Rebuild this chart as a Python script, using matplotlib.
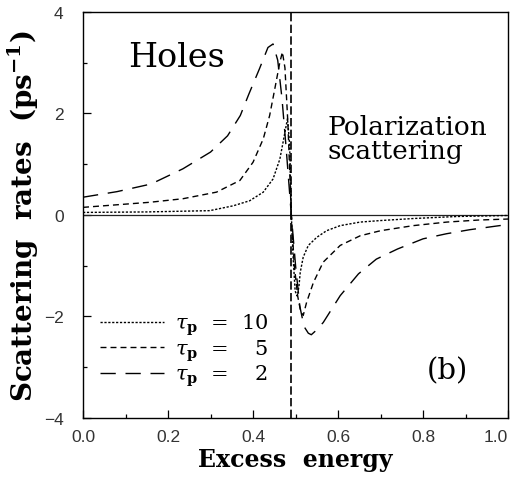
import matplotlib.pyplot as plt
from matplotlib.ticker import MultipleLocator

# tau_p = 2 (long dashes)
x_tau2 = [0.0, 0.08, 0.16, 0.235, 0.30, 0.34, 0.37, 0.39, 0.415, 0.435, 0.447,
          0.458, 0.468, 0.478, 0.49, 0.50, 0.51, 0.52, 0.53, 0.537, 0.545,
          0.565, 0.605, 0.648, 0.69, 0.74, 0.80, 0.855, 0.91, 0.98, 1.0]
y_tau2 = [0.35, 0.46, 0.61, 0.91, 1.24, 1.56, 1.96, 2.38, 2.88, 3.30, 3.37,
          3.05, 2.3, 1.3, 0.0, -1.0, -1.8, -2.2, -2.33, -2.36, -2.3,
          -2.12, -1.59, -1.16, -0.87, -0.67, -0.47, -0.37, -0.29, -0.21, -0.19]

# tau_p = 5 (medium dashes)
x_tau5 = [0.0, 0.157, 0.235, 0.314, 0.369, 0.40, 0.424, 0.439, 0.451, 0.463,
          0.469, 0.475, 0.482, 0.49, 0.497, 0.505, 0.512, 0.518, 0.526, 0.542,
          0.565, 0.605, 0.652, 0.70, 0.777, 0.856, 0.93, 1.0]
y_tau5 = [0.15, 0.25, 0.32, 0.45, 0.68, 1.04, 1.50, 1.96, 2.48, 3.01,
          3.21, 2.9, 1.8, 0.0, -1.0, -1.6, -1.9, -1.98, -1.72, -1.33,
          -0.93, -0.60, -0.41, -0.31, -0.21, -0.14, -0.10, -0.08]

# tau_p = 10 (short dashes)
x_tau10 = [0.0, 0.15, 0.298, 0.353, 0.392, 0.424, 0.447, 0.463, 0.475, 0.481,
           0.486, 0.49, 0.494, 0.499, 0.504, 0.508, 0.511, 0.518, 0.53, 0.55,
           0.573, 0.605, 0.652, 0.70, 0.777, 0.88, 1.0]
y_tau10 = [0.05, 0.06, 0.085, 0.18, 0.28, 0.45, 0.71, 1.10, 1.63, 1.9,
           1.4, 0.0, -0.8, -1.5, -1.6, -1.4, -1.13, -0.83, -0.60, -0.44,
           -0.31, -0.21, -0.14, -0.11, -0.07, -0.03, -0.01]

resonance = 0.49
xticks = [0.0, 0.2, 0.4, 0.6, 0.8, 1.0]
yticks = [-4, -2, 0, 2, 4]

serif = ['DejaVu Serif']
sans = ['Liberation Sans', 'DejaVu Sans']
plt.rcParams['mathtext.fontset'] = 'dejavuserif'

fig = plt.figure(figsize=(5.19, 4.81), dpi=100)
ax = fig.add_axes([0.160, 0.129, 0.819, 0.844])

ax.axhline(0, color='#222222', lw=0.9)
ax.axvline(resonance, color='black', lw=1.2, dashes=(5, 2))

ax.plot(x_tau10, y_tau10, color='black', lw=1.0, dashes=(1.6, 1.2),
        label='$\\tau_{\\mathbf{p}}$  =  10')
ax.plot(x_tau5, y_tau5, color='black', lw=1.0, dashes=(4.3, 2.9),
        label='$\\tau_{\\mathbf{p}}$  =  \u20075')
ax.plot(x_tau2, y_tau2, color='black', lw=1.0, dashes=(11, 7),
        label='$\\tau_{\\mathbf{p}}$  =  \u20072')

ax.set_xlim(0, 1)
ax.set_ylim(-4, 4)
ax.set_xticks(xticks)
ax.set_yticks(yticks)
ax.xaxis.set_minor_locator(MultipleLocator(0.1))
ax.yaxis.set_minor_locator(MultipleLocator(1))
ax.tick_params(which='both', direction='in', top=False, right=False)
ax.tick_params(which='major', length=6, width=0.9)
ax.tick_params(which='minor', length=3, width=0.9)
ax.tick_params(axis='y', pad=14)
ax.tick_params(axis='x', pad=8)
ax.set_xticklabels(['%.1f' % t for t in xticks], family=sans, fontsize=12.5, color='#333333')
ax.set_yticklabels(['\u2212%d' % -t if t < 0 else '%d' % t for t in yticks],
                   family=sans, fontsize=12.5, color='#333333')
ax.get_xticklabels()[-1].set_horizontalalignment('right')
for s in ax.spines.values():
    s.set_linewidth(1.0)

ax.set_xlabel('Excess  energy', family=serif, fontsize=17, fontweight='bold', labelpad=2)
ax.set_ylabel('Scattering  rates  (ps$^{\\mathbf{-1}}$)', family=serif, fontsize=20,
              fontweight='bold', labelpad=2)

ax.text(0.219, 3.11, 'Holes', family=serif, fontsize=24, ha='center', va='center')
ax.text(0.574, 1.5, 'Polarization\nscattering', family=serif, fontsize=19,
        ha='left', va='center', linespacing=0.95)
ax.text(0.857, -3.07, '(b)', family=serif, fontsize=21, ha='center', va='center')

leg = ax.legend(loc='lower left', bbox_to_anchor=(0.02, 0.053), frameon=False,
                prop={'family': serif, 'size': 15}, handlelength=3.1,
                handletextpad=0.5, labelspacing=0.0, borderaxespad=0)

fig.savefig('out.png', dpi=100)
